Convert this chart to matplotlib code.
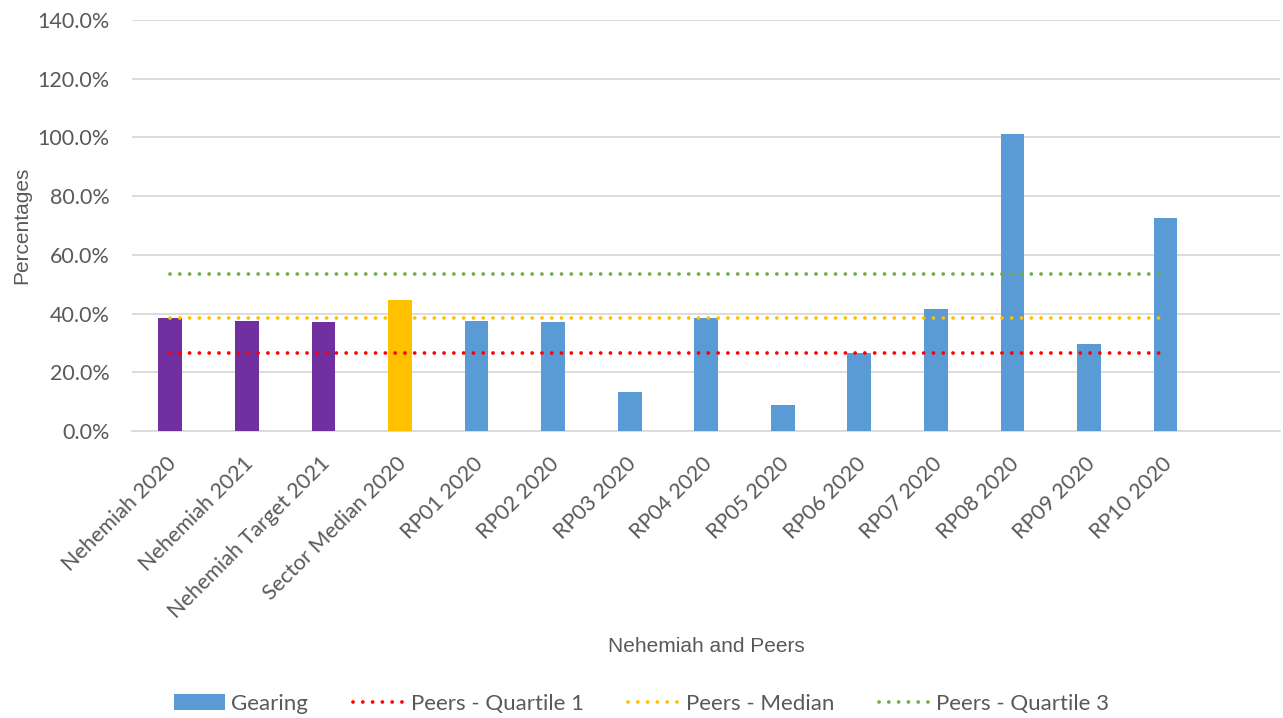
import matplotlib
matplotlib.use("Agg")
import matplotlib.pyplot as plt
import matplotlib.transforms as mtransforms
import numpy as np
from matplotlib.patches import Patch
from matplotlib.lines import Line2D

categories = ["Nehemiah 2020", "Nehemiah 2021", "Nehemiah Target 2021",
              "Sector Median 2020", "RP01 2020", "RP02 2020", "RP03 2020",
              "RP04 2020", "RP05 2020", "RP06 2020", "RP07 2020", "RP08 2020",
              "RP09 2020", "RP10 2020"]
gearing = [38.4, 37.5, 37.0, 44.6, 37.6, 37.2, 13.4, 38.4, 8.9, 26.5,
           41.7, 101.2, 29.6, 72.7]
bar_colors = ["#7030A0", "#7030A0", "#7030A0", "#FFC000"] + ["#5B9BD5"] * 10
peers_q1 = 26.5
peers_median = 38.4
peers_q3 = 53.4
yticks = [0, 20, 40, 60, 80, 100, 120, 140]

fig = plt.figure(figsize=(12.83, 7.18), dpi=100)
ax = fig.add_axes([0.1029, 0.3997, 0.8951, 0.5724])

x = np.arange(len(categories))
ax.bar(x, gearing, width=0.31, color=bar_colors, zorder=3)

line_x = [x[0], x[-1]]
dot = dict(linewidth=2.7, linestyle=(0, (0.01, 2.6)), dash_capstyle="round", zorder=4)
ax.plot(line_x, [peers_q1] * 2, color="#FF0000", **dot)
ax.plot(line_x, [peers_median] * 2, color="#FFC000", **dot)
ax.plot(line_x, [peers_q3] * 2, color="#70AD47", **dot)

ax.set_xlim(-0.5, 14.5)
ax.set_ylim(0, 140)
ax.set_yticks(yticks)
ax.set_yticklabels([f"{v:.1f}%" for v in yticks], fontsize=15.5, color="#595959",
                   family="Lato")
ax.yaxis.grid(True, color="#D9D9D9", linewidth=1.3, zorder=0)
ax.set_axisbelow(True)
for s in ["top", "right", "left"]:
    ax.spines[s].set_visible(False)
ax.spines["bottom"].set_color("#D9D9D9")
ax.spines["bottom"].set_linewidth(1.3)
ax.tick_params(axis="both", length=0)
ax.tick_params(axis="y", pad=16)

ax.set_xticks(x)
ax.set_xticklabels(categories, rotation=45, ha="right", rotation_mode="anchor",
                   fontsize=15.5, color="#595959", family="Lato")
ax.tick_params(axis="x", pad=16)
offset = mtransforms.ScaledTranslation(-4 / 100, 0, fig.dpi_scale_trans)
for lbl in ax.get_xticklabels():
    lbl.set_transform(lbl.get_transform() + offset)

ax.set_ylabel("Percentages", fontsize=15, color="#595959", family="Liberation Sans")
ax.yaxis.set_label_coords(-0.088, 0.5)
fig.text(0.5503, 1 - 647 / 718, "Nehemiah and Peers", fontsize=15, color="#595959",
         family="Liberation Sans", ha="center", va="center")

handles = [
    Patch(facecolor="#5B9BD5"),
    Line2D([0], [0], color="#FF0000", **dot),
    Line2D([0], [0], color="#FFC000", **dot),
    Line2D([0], [0], color="#70AD47", **dot),
]
labels = ["Gearing", "Peers - Quartile 1", "Peers - Median", "Peers - Quartile 3"]
leg = fig.legend(handles, labels, loc="center", bbox_to_anchor=(0.5, 1 - 704 / 718),
                 ncol=4, frameon=False, handlelength=2.3, handleheight=0.75,
                 columnspacing=2.0, handletextpad=0.3,
                 prop={"family": "Lato", "size": 16})
for t in leg.get_texts():
    t.set_color("#595959")

fig.savefig("out.png", dpi=100)
